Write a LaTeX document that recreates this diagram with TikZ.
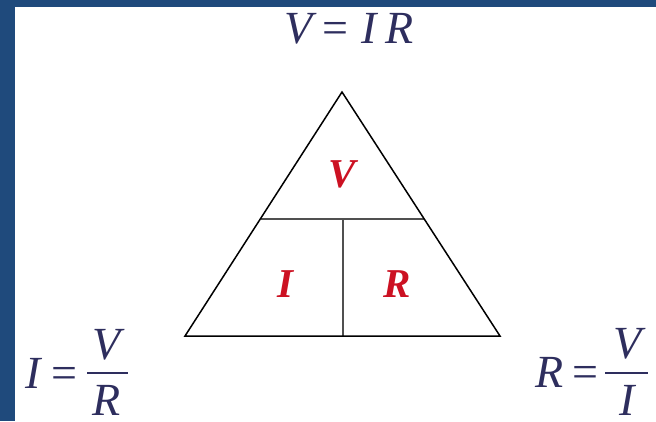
\documentclass[tikz,border=0pt]{standalone}
\usepackage{fontspec}
\setmainfont{Liberation Serif}
\definecolor{framec}{HTML}{1F4A7C}
\definecolor{eqc}{HTML}{2E2E5E}
\definecolor{redl}{HTML}{CC1122}
\definecolor{divc}{HTML}{505050}
\begin{document}
\begin{tikzpicture}[x=1pt,y=-1pt,
  eq/.style={inner sep=0pt, anchor=base, text=eqc, font=\fontsize{46}{46}\selectfont\itshape},
  eqn/.style={inner sep=0pt, anchor=base, text=eqc, font=\fontsize{46}{46}\selectfont},
  lett/.style={inner sep=0pt, anchor=base, text=redl, font=\fontsize{41}{41}\selectfont\bfseries\itshape},
  edge/.style={line width=1.5pt, black},
  divider/.style={line width=1.4pt, divc},
  fracbar/.style={line width=2pt, eqc}]
\useasboundingbox (0,0) rectangle (656,421);
\fill[framec] (0,0) rectangle (656,421);
\fill[white] (15,7) rectangle (656,421);
% triangle
\coordinate (apex) at (342,92);
\coordinate (bl) at (185,336);
\coordinate (br) at (500,336);
\coordinate (ml) at (260.5,219);
\coordinate (mr) at (424,219);
\coordinate (mt) at (343,219);
\coordinate (mb) at (343,336);
\draw[divider] (ml) -- (mr);
\draw[divider] (mt) -- (mb);
\draw[edge, line join=miter] (apex) -- (bl) -- (br) -- cycle;
\node[lett] (tv) at (342,187) {V};
\node[lett] (ti) at (285,297) {I};
\node[lett] (tr) at (397,297) {R};
% top equation
\node[eq] (av) at (299,43) {V};
\node[eqn] (aeq) at (335,43) {=};
\node[eq] (ai) at (369,43) {I};
\node[eq] (ar) at (400,43) {R};
% left equation
\node[eq] (bi) at (33,388) {I};
\node[eqn] (beq) at (64,388) {=};
\coordinate (bb1) at (87,373);
\coordinate (bb2) at (128,373);
\draw[fracbar] (bb1) -- (bb2);
\node[eq] (bv) at (107,359) {V};
\node[eq] (br2) at (107,415) {R};
% right equation
\node[eq] (cr) at (550,387) {R};
\node[eqn] (ceq) at (585,387) {=};
\coordinate (cb1) at (605,373);
\coordinate (cb2) at (648,373);
\draw[fracbar] (cb1) -- (cb2);
\node[eq] (cv) at (628,358) {V};
\node[eq] (ci) at (627,415) {I};
\end{tikzpicture}
\end{document}
